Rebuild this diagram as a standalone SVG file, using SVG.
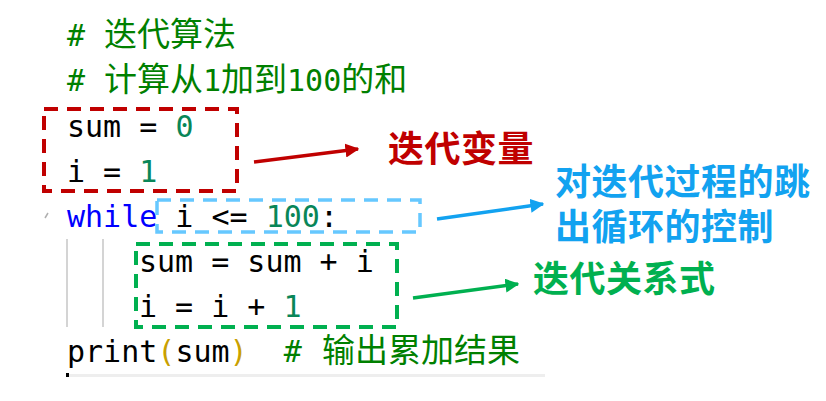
<svg xmlns="http://www.w3.org/2000/svg" width="826" height="401" viewBox="0 0 826 401">
<defs>
<style>
.code{font-family:"DejaVu Sans Mono","Liberation Mono","Noto Sans CJK SC",monospace;font-size:30px;fill:#000}
.cmt{fill:#008000}
.cjk{font-family:"Noto Sans CJK SC",sans-serif;font-size:33px}
.num{fill:#098658}
.kw{fill:#0000FF}
.par{fill:#C9A000}
.lbl{font-family:"Noto Sans CJK SC","Microsoft YaHei",sans-serif;font-size:36px;font-weight:bold;letter-spacing:0.5px}
.box{fill:none;stroke-dasharray:14 9}
</style>
<marker id="ar" viewBox="0 0 10 10" refX="9" refY="5" markerWidth="4" markerHeight="4" orient="auto" markerUnits="strokeWidth"><path d="M0,0 L10,5 L0,10 z" fill="#C00000"/></marker>
<marker id="ab" viewBox="0 0 10 10" refX="9" refY="5" markerWidth="4" markerHeight="4" orient="auto" markerUnits="strokeWidth"><path d="M0,0 L10,5 L0,10 z" fill="#12A2F0"/></marker>
<marker id="ag" viewBox="0 0 10 10" refX="9" refY="5" markerWidth="4" markerHeight="4" orient="auto" markerUnits="strokeWidth"><path d="M0,0 L10,5 L0,10 z" fill="#00B050"/></marker>
</defs>
<rect width="826" height="401" fill="#fff"/>
<g id="editor">
<line x1="67" y1="239" x2="67" y2="327" stroke="#D4D4D4" stroke-width="2"/>
<line x1="103" y1="239" x2="103" y2="327" stroke="#D4D4D4" stroke-width="2"/>
<path d="M45,218 L48,213" stroke="#B0B0B0" stroke-width="1.5"/>
<rect x="67" y="374" width="478" height="3" fill="#EEEEEE"/>
<rect x="66" y="373" width="3" height="4" fill="#000"/>
</g>
<g id="code">
<text class="code cmt" x="67" y="46">#<tspan class="cjk" x="104">迭代算法</tspan></text>
<text class="code cmt" x="67" y="91">#<tspan class="cjk" x="104">计算从</tspan><tspan>1</tspan><tspan class="cjk">加到</tspan><tspan>100</tspan><tspan class="cjk">的和</tspan></text>
<text class="code" x="67" y="137" xml:space="preserve">sum = <tspan class="num">0</tspan></text>
<text class="code" x="67" y="182" xml:space="preserve">i = <tspan class="num">1</tspan></text>
<text class="code" x="67" y="227" xml:space="preserve"><tspan class="kw">while</tspan> i &lt;= <tspan class="num">100</tspan>:</text>
<text class="code" x="139" y="272" xml:space="preserve">sum = sum + i</text>
<text class="code" x="139" y="317" xml:space="preserve">i = i + <tspan class="num">1</tspan></text>
<text class="code" x="67" y="362" xml:space="preserve">print<tspan class="par">(</tspan>sum<tspan class="par">)</tspan>  <tspan class="cmt">#</tspan><tspan class="cmt cjk" x="322">输出累加结果</tspan></text>
</g>
<g id="box-init">
<rect class="box" x="44" y="109" width="193" height="82" stroke="#C00000" stroke-width="4"/>
</g>
<g id="box-cond">
<rect class="box" x="157" y="200" width="263" height="32" stroke="#66C8FF" stroke-width="3.5"/>
</g>
<g id="box-iter">
<rect class="box" x="136" y="244" width="261" height="83" stroke="#00B050" stroke-width="4"/>
</g>
<g id="connectors" fill="none" stroke-width="3.5">
<line x1="254" y1="162" x2="358" y2="149" stroke="#C00000" marker-end="url(#ar)"/>
<line x1="437" y1="219" x2="543" y2="204" stroke="#12A2F0" marker-end="url(#ab)"/>
<line x1="413" y1="298" x2="518" y2="284" stroke="#00B050" marker-end="url(#ag)"/>
</g>
<g id="label-var">
<text class="lbl" x="388" y="162" fill="#C00000">迭代变量</text>
</g>
<g id="label-cond">
<text class="lbl" x="555" y="195" fill="#12A2F0">对迭代过程的跳<tspan x="555" dy="45">出循环的控制</tspan></text>
</g>
<g id="label-iter">
<text class="lbl" x="533" y="292" fill="#00B050">迭代关系式</text>
</g>
</svg>
